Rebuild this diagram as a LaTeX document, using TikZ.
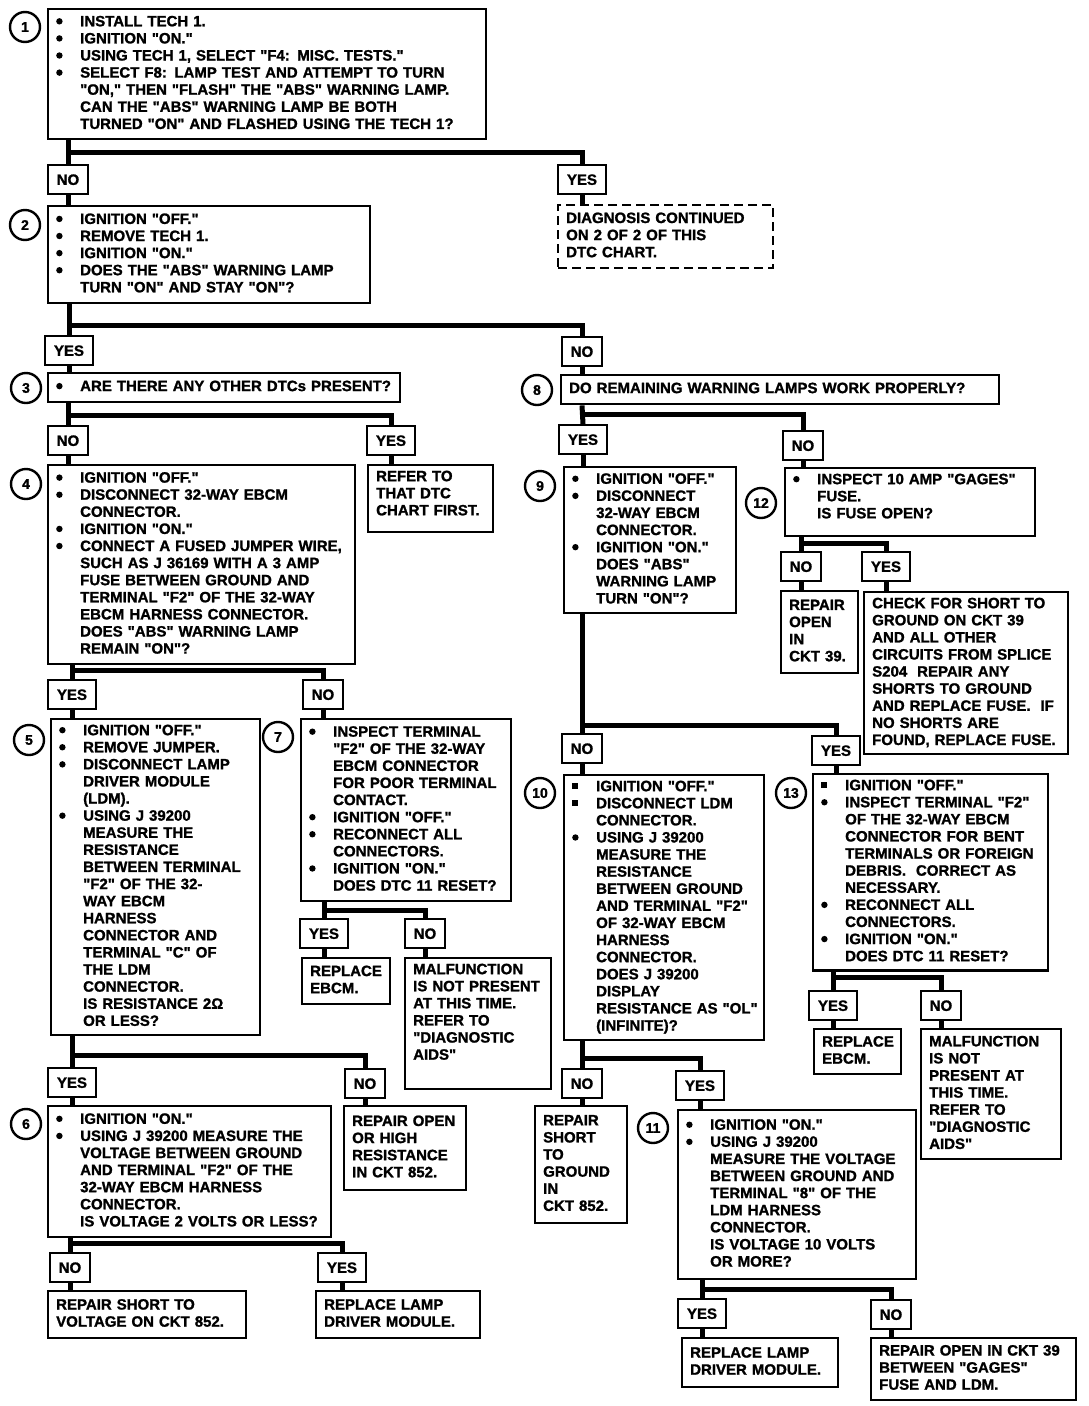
\documentclass[tikz,border=0pt]{standalone}
\usepackage{fontspec}
\setmainfont{Liberation Sans}[Ligatures=TeXOff,BoldFeatures={FakeBold=1.3}]
\tikzset{
  box/.style={draw,line width=2.4pt,anchor=north west,inner xsep=8pt,
    inner ysep=4pt,align=left},
  dsh/.style={box,dash pattern=on 9pt off 5pt},
  lab/.style={draw,line width=2.4pt,anchor=north,inner xsep=9pt,
    inner ysep=0pt,minimum height=29pt},
  num/.style={circle,draw,line width=2.4pt,minimum size=30pt,inner sep=0pt,
    font=\fontsize{14}{14}\selectfont\bfseries},
}
\newcommand{\tx}[2][c]{\begin{tabular}[#1]{@{}l@{}}#2\end{tabular}}
\newcommand{\bu}{\makebox[24pt][l]{\raisebox{1.8pt}{\tikz\fill (0,0) circle (3.2pt);}}}
\newcommand{\sq}{\makebox[24pt][l]{\rule[2pt]{6pt}{6pt}}}
\newcommand{\ct}{\hspace*{24pt}}

\begin{document}
\begin{tikzpicture}[x=1pt,y=-1pt,
  every node/.style={font=\fontsize{15}{17.1}\selectfont\bfseries},
  fl/.style={line width=5pt}]
  \path[use as bounding box,fill=white] (0,0) rectangle (1088,1406);
  % left column: steps 1 to 7
  \node[num] (c1) at (25,27) {1};
  \node[box,text width=422pt,minimum height=130pt] (b1) at (47,8) {\tx{%
    \bu INSTALL TECH 1.\\
    \bu IGNITION "ON."\\
    \bu USING TECH 1, SELECT "F4: MISC. TESTS."\\
    \bu SELECT F8: LAMP TEST AND ATTEMPT TO TURN\\
    \ct "ON," THEN "FLASH" THE "ABS" WARNING LAMP.\\
    \ct CAN THE "ABS" WARNING LAMP BE BOTH\\
    \ct TURNED "ON" AND FLASHED USING THE TECH 1?}};
  \node[lab] (no1)  at (68,164)  {NO};
  \node[lab] (yes1) at (582,164) {YES};
  \node[dsh,text width=199pt,minimum height=63pt] (dc) at (557,204) {\tx{%
    DIAGNOSIS CONTINUED\\ ON 2 OF 2 OF THIS\\ DTC CHART.}};
  \node[num] (c2) at (25,225) {2};
  \node[box,text width=306pt,minimum height=97pt] (b2) at (47,205) {\tx{%
    \bu IGNITION "OFF."\\
    \bu REMOVE TECH 1.\\
    \bu IGNITION "ON."\\
    \bu DOES THE "ABS" WARNING LAMP\\
    \ct TURN "ON" AND STAY "ON"?}};
  \node[lab] (yes2) at (69,335)  {YES};
  \node[lab] (no2)  at (582,336) {NO};
  \node[num] (c3) at (26,388) {3};
  \node[box,text width=336pt,minimum height=29pt] (b3) at (47,372)
    {\tx{\bu ARE THERE ANY OTHER DTCs PRESENT?}};
  \node[lab] (no3)  at (68,425)  {NO};
  \node[lab] (yes3) at (391,425) {YES};
  \node[box,text width=109pt,text depth=47pt] (rf3) at (367,464)
    {\tx[t]{REFER TO\\ THAT DTC\\ CHART FIRST.}};
  \node[num] (c4) at (26,484) {4};
  \node[box,text width=291pt,minimum height=199pt] (b4) at (47,464) {\tx{%
    \bu IGNITION "OFF."\\
    \bu DISCONNECT 32-WAY EBCM\\
    \ct CONNECTOR.\\
    \bu IGNITION "ON."\\
    \bu CONNECT A FUSED JUMPER WIRE,\\
    \ct SUCH AS J 36169 WITH A 3 AMP\\
    \ct FUSE BETWEEN GROUND AND\\
    \ct TERMINAL "F2" OF THE 32-WAY\\
    \ct EBCM HARNESS CONNECTOR.\\
    \ct DOES "ABS" WARNING LAMP\\
    \ct REMAIN "ON"?}};
  \node[lab] (yes4) at (72,679)  {YES};
  \node[lab] (no4)  at (323,679) {NO};
  \node[num] (c5) at (29,740) {5};
  \node[box,text width=193pt,minimum height=315pt] (b5) at (50,718) {\tx{%
    \bu IGNITION "OFF."\\
    \bu REMOVE JUMPER.\\
    \bu DISCONNECT LAMP\\
    \ct DRIVER MODULE\\
    \ct (LDM).\\
    \bu USING J 39200\\
    \ct MEASURE THE\\
    \ct RESISTANCE\\
    \ct BETWEEN TERMINAL\\
    \ct "F2" OF THE 32-\\
    \ct WAY EBCM\\
    \ct HARNESS\\
    \ct CONNECTOR AND\\
    \ct TERMINAL "C" OF\\
    \ct THE LDM\\
    \ct CONNECTOR.\\
    \ct IS RESISTANCE 2Ω\\
    \ct OR LESS?}};
  \node[num] (c7) at (278,737) {7};
  \node[box,text width=194pt,minimum height=182pt] (b7) at (300,718) {\tx{%
    \bu INSPECT TERMINAL\\
    \ct "F2" OF THE 32-WAY\\
    \ct EBCM CONNECTOR\\
    \ct FOR POOR TERMINAL\\
    \ct CONTACT.\\
    \bu IGNITION "OFF."\\
    \bu RECONNECT ALL\\
    \ct CONNECTORS.\\
    \bu IGNITION "ON."\\
    \ct DOES DTC 11 RESET?}};
  \node[lab] (yes7) at (324,918) {YES};
  \node[lab] (no7)  at (425,918) {NO};
  \node[box,text width=72pt,minimum height=46pt] (re7) at (301,957)
    {\tx{REPLACE\\ EBCM.}};
  \node[box,text width=130pt,text depth=111pt] (mf7) at (404,957) {\tx[t]{%
    MALFUNCTION\\ IS NOT PRESENT\\ AT THIS TIME.\\ REFER TO\\
    "DIAGNOSTIC\\ AIDS"}};
  \node[lab] (yes5) at (72,1067)  {YES};
  \node[lab] (no5)  at (365,1068) {NO};
  \node[num] (c6) at (26,1124) {6};
  \node[box,text width=267pt,minimum height=131pt] (b6) at (47,1105) {\tx{%
    \bu IGNITION "ON."\\
    \bu USING J 39200 MEASURE THE\\
    \ct VOLTAGE BETWEEN GROUND\\
    \ct AND TERMINAL "F2" OF THE\\
    \ct 32-WAY EBCM HARNESS\\
    \ct CONNECTOR.\\
    \ct IS VOLTAGE 2 VOLTS OR LESS?}};
  \node[box,text width=106pt,minimum height=84pt] (ro5) at (343,1105)
    {\tx{REPAIR OPEN\\ OR HIGH\\ RESISTANCE\\ IN CKT 852.}};
  \node[lab] (no6)  at (70,1252)  {NO};
  \node[lab] (yes6) at (342,1252) {YES};
  \node[box,text width=182pt,minimum height=47pt] (rs6) at (47,1290)
    {\tx{REPAIR SHORT TO\\ VOLTAGE ON CKT 852.}};
  \node[box,text width=148pt,minimum height=47pt] (rl6) at (315,1290)
    {\tx{REPLACE LAMP\\ DRIVER MODULE.}};
  % right column: steps 8 to 13
  \node[num] (c8) at (537,390) {8};
  \node[box,text width=422pt,minimum height=29pt] (b8) at (560,374)
    {\tx{DO REMAINING WARNING LAMPS WORK PROPERLY?}};
  \node[lab] (yes8) at (583,424) {YES};
  \node[lab] (no8)  at (803,430) {NO};
  \node[num] (c9) at (540,486) {9};
  \node[box,text width=156pt,minimum height=146pt] (b9) at (563,466) {\tx{%
    \bu IGNITION "OFF."\\
    \bu DISCONNECT\\
    \ct 32-WAY EBCM\\
    \ct CONNECTOR.\\
    \bu IGNITION "ON."\\
    \ct DOES "ABS"\\
    \ct WARNING LAMP\\
    \ct TURN "ON"?}};
  \node[num] (c12) at (761,503) {12};
  \node[box,text width=234pt,text depth=48pt] (b12) at (784,467) {\tx[t]{%
    \bu INSPECT 10 AMP "GAGES"\\
    \ct FUSE.\\
    \ct IS FUSE OPEN?}};
  \node[lab] (no12)  at (801,551) {NO};
  \node[lab] (yes12) at (886,551) {YES};
  \node[box,text width=61pt,minimum height=82pt] (ro12) at (780,590)
    {\tx{REPAIR\\ OPEN\\ IN\\ CKT 39.}};
  \node[box,text width=188pt,minimum height=162pt] (ck12) at (863,591) {\tx{%
    CHECK FOR SHORT TO\\ GROUND ON CKT 39\\ AND ALL OTHER\\
    CIRCUITS FROM SPLICE\\ S204 \ REPAIR ANY\\ SHORTS TO GROUND\\
    AND REPLACE FUSE. \ IF\\ NO SHORTS ARE\\ FOUND, REPLACE FUSE.}};
  \node[lab] (no9)  at (582,733) {NO};
  \node[lab] (yes9) at (836,735) {YES};
  \node[num] (c10) at (540,793) {10};
  \node[box,text width=184pt,minimum height=262pt] (b10) at (563,774) {\tx{%
    \sq IGNITION "OFF."\\
    \sq DISCONNECT LDM\\
    \ct CONNECTOR.\\
    \bu USING J 39200\\
    \ct MEASURE THE\\
    \ct RESISTANCE\\
    \ct BETWEEN GROUND\\
    \ct AND TERMINAL "F2"\\
    \ct OF 32-WAY EBCM\\
    \ct HARNESS\\
    \ct CONNECTOR.\\
    \ct DOES J 39200\\
    \ct DISPLAY\\
    \ct RESISTANCE AS "OL"\\
    \ct (INFINITE)?}};
  \node[num] (c13) at (791,793) {13};
  \node[box,text width=219pt,minimum height=195pt] (b13) at (812,773) {\tx{%
    \sq IGNITION "OFF."\\
    \bu INSPECT TERMINAL "F2"\\
    \ct OF THE 32-WAY EBCM\\
    \ct CONNECTOR FOR BENT\\
    \ct TERMINALS OR FOREIGN\\
    \ct DEBRIS. \ CORRECT AS\\
    \ct NECESSARY.\\
    \bu RECONNECT ALL\\
    \ct CONNECTORS.\\
    \bu IGNITION "ON."\\
    \ct DOES DTC 11 RESET?}};
  \node[lab] (yes13) at (833,990) {YES};
  \node[lab] (no13)  at (941,990) {NO};
  \node[box,text width=71pt,minimum height=45pt] (re13) at (813,1028)
    {\tx{REPLACE\\ EBCM.}};
  \node[box,text width=124pt,minimum height=130pt] (mf13) at (920,1028) {\tx{%
    MALFUNCTION\\ IS NOT\\ PRESENT AT\\ THIS TIME.\\ REFER TO\\
    "DIAGNOSTIC\\ AIDS"}};
  \node[lab] (no10)  at (582,1068) {NO};
  \node[lab] (yes10) at (700,1070) {YES};
  \node[box,text width=76pt,minimum height=117pt] (rg10) at (534,1105)
    {\tx{REPAIR\\ SHORT\\ TO\\ GROUND\\ IN\\ CKT 852.}};
  \node[num] (c11) at (653,1128) {11};
  \node[box,text width=222pt,minimum height=169pt] (b11) at (677,1109) {\tx{%
    \bu IGNITION "ON."\\
    \bu USING J 39200\\
    \ct MEASURE THE VOLTAGE\\
    \ct BETWEEN GROUND AND\\
    \ct TERMINAL "8" OF THE\\
    \ct LDM HARNESS\\
    \ct CONNECTOR.\\
    \ct IS VOLTAGE 10 VOLTS\\
    \ct OR MORE?}};
  \node[lab] (yes11) at (702,1298) {YES};
  \node[lab] (no11)  at (891,1299) {NO};
  \node[box,text width=140pt,minimum height=49pt] (rl11) at (681,1337)
    {\tx{REPLACE LAMP\\ DRIVER MODULE.}};
  \node[box,text width=189pt,minimum height=62pt] (ro11) at (870,1337)
    {\tx{REPAIR OPEN IN CKT 39\\ BETWEEN "GAGES"\\ FUSE AND LDM.}};
  % flow lines
  \coordinate (j1) at (68,152);
  \draw[fl] (b1.south -| j1) -- (no1.north);
  \draw[fl] (j1) -| (yes1.north);
  \draw[fl] (no1.south) -- (no1.south |- b2.north);
  \draw[fl] (yes1.south) -- (yes1.south |- dc.north);
  \coordinate (j2) at (69,325);
  \draw[fl] (b2.south -| j2) -- (yes2.north);
  \draw[fl] (j2) -| (no2.north);
  \draw[fl] (yes2.south) -- (yes2.south |- b3.north);
  \draw[fl] (no2.south) -- (no2.south |- b8.north);
  \coordinate (j3) at (68,415);
  \draw[fl] (b3.south -| j3) -- (no3.north);
  \draw[fl] (j3) -| (yes3.north);
  \draw[fl] (no3.south) -- (no3.south |- b4.north);
  \draw[fl] (yes3.south) -- (yes3.south |- rf3.north);
  \coordinate (j4) at (72,670);
  \draw[fl] (b4.south -| j4) -- (yes4.north);
  \draw[fl] (j4) -| (no4.north);
  \draw[fl] (yes4.south) -- (yes4.south |- b5.north);
  \draw[fl] (no4.south) -- (no4.south |- b7.north);
  \coordinate (j7) at (324,910);
  \draw[fl] (b7.south -| j7) -- (yes7.north);
  \draw[fl] (j7) -| (no7.north);
  \draw[fl] (yes7.south) -- (yes7.south |- re7.north);
  \draw[fl] (no7.south) -- (no7.south |- mf7.north);
  \coordinate (j5) at (72,1055);
  \draw[fl] (b5.south -| j5) -- (yes5.north);
  \draw[fl] (j5) -| (no5.north);
  \draw[fl] (yes5.south) -- (yes5.south |- b6.north);
  \draw[fl] (no5.south) -- (no5.south |- ro5.north);
  \coordinate (j6) at (70,1243);
  \draw[fl] (b6.south -| j6) -- (no6.north);
  \draw[fl] (j6) -| (yes6.north);
  \draw[fl] (no6.south) -- (no6.south |- rs6.north);
  \draw[fl] (yes6.south) -- (yes6.south |- rl6.north);
  \coordinate (j8) at (582,414);
  \draw[fl] (b8.south -| j8) -- (yes8.north);
  \draw[fl] (j8) -| (no8.north);
  \draw[fl] (yes8.south) -- (yes8.south |- b9.north);
  \draw[fl] (no8.south) -- (no8.south |- b12.north);
  \coordinate (j12) at (801,543);
  \draw[fl] (b12.south -| j12) -- (no12.north);
  \draw[fl] (j12) -| (yes12.north);
  \draw[fl] (no12.south) -- (no12.south |- ro12.north);
  \draw[fl] (yes12.south) -- (yes12.south |- ck12.north);
  \coordinate (j9) at (582,725);
  \draw[fl] (b9.south -| j9) -- (no9.north);
  \draw[fl] (j9) -| (yes9.north);
  \draw[fl] (no9.south) -- (no9.south |- b10.north);
  \draw[fl] (yes9.south) -- (yes9.south |- b13.north);
  \coordinate (j13) at (833,977);
  \draw[fl] (b13.south -| j13) -- (yes13.north);
  \draw[fl] (j13) -| (no13.north);
  \draw[fl] (yes13.south) -- (yes13.south |- re13.north);
  \draw[fl] (no13.south) -- (no13.south |- mf13.north);
  \coordinate (j10) at (582,1058);
  \draw[fl] (b10.south -| j10) -- (no10.north);
  \draw[fl] (j10) -| (yes10.north);
  \draw[fl] (no10.south) -- (no10.south |- rg10.north);
  \draw[fl] (yes10.south) -- (yes10.south |- b11.north);
  \coordinate (j11) at (702,1289);
  \draw[fl] (b11.south -| j11) -- (yes11.north);
  \draw[fl] (j11) -| (no11.north);
  \draw[fl] (yes11.south) -- (yes11.south |- rl11.north);
  \draw[fl] (no11.south) -- (no11.south |- ro11.north);
\end{tikzpicture}
\end{document}
